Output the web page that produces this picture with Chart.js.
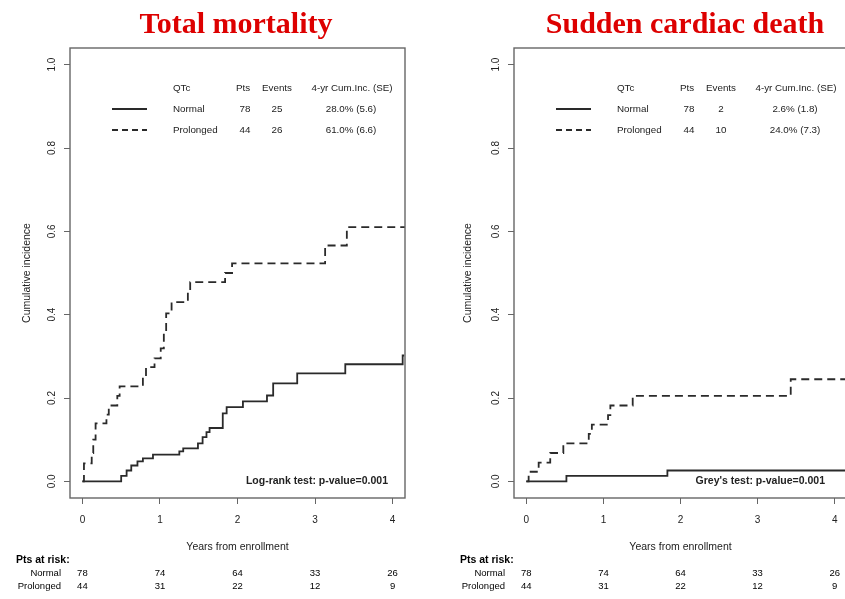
<!DOCTYPE html>
<html>
<head>
<meta charset="utf-8">
<script src="https://cdn.jsdelivr.net/npm/chart.js@4"></script>
<style>
html, body { margin: 0; padding: 0; background: #fff; }
#wrap { position: relative; width: 845px; height: 599px; overflow: hidden; }
#c1 { position: absolute; left: 0; top: 0; width: 420px; height: 599px; }
#c2 { position: absolute; left: 420px; top: 0; width: 440px; height: 599px; }
</style>
</head>
<body>
<div id="wrap">
  <canvas id="c1" width="420" height="599"></canvas>
  <canvas id="c2" width="440" height="599"></canvas>
</div>
<script>
// axes
const yearTicks = [0, 1, 2, 3, 4];
const incidenceTicks = [0, 0.2, 0.4, 0.6, 0.8, 1.0];
const groups = ['Normal', 'Prolonged'];

// patients at risk (same cohort for both panels)
const riskNormal = [78, 74, 64, 33, 26];
const riskProlonged = [44, 31, 22, 12, 9];

// Total mortality - cumulative incidence step curves
const tmNormalTime = [0, 0.50, 0.57, 0.63, 0.71, 0.78, 0.91, 1.25, 1.30, 1.49, 1.55, 1.60, 1.64, 1.81, 1.86, 2.07, 2.38, 2.46, 2.77, 3.39, 4.13, 4.15];
const tmNormalInc  = [0, 0.013, 0.026, 0.038, 0.048, 0.055, 0.064, 0.072, 0.079, 0.091, 0.106, 0.118, 0.128, 0.163, 0.178, 0.192, 0.206, 0.235, 0.259, 0.281, 0.302, 0.302];
const tmProlTime = [0, 0.02, 0.12, 0.14, 0.17, 0.31, 0.34, 0.45, 0.48, 0.78, 0.82, 0.93, 1.01, 1.05, 1.08, 1.15, 1.36, 1.39, 1.84, 1.93, 3.13, 3.41, 4.16];
const tmProlInc  = [0, 0.043, 0.068, 0.100, 0.139, 0.160, 0.182, 0.205, 0.228, 0.250, 0.274, 0.295, 0.319, 0.360, 0.403, 0.430, 0.455, 0.478, 0.500, 0.523, 0.566, 0.610, 0.610];
const tmPts = [78, 44];
const tmEvents = [25, 26];
const tmCumInc = ['28.0% (5.6)', '61.0% (6.6)'];

// Sudden cardiac death
const scdNormalTime = [0, 0.52, 1.83, 4.16];
const scdNormalInc  = [0, 0.013, 0.026, 0.026];
const scdProlTime = [0, 0.03, 0.16, 0.31, 0.48, 0.81, 0.85, 1.06, 1.09, 1.38, 3.43, 4.16];
const scdProlInc  = [0, 0.023, 0.045, 0.068, 0.091, 0.114, 0.136, 0.159, 0.182, 0.205, 0.245, 0.245];
const scdPts = [78, 44];
const scdEvents = [2, 10];
const scdCumInc = ['2.6% (1.8)', '24.0% (7.3)'];

const ink = '#2a2a2a';
const textCol = '#222';
const sans = '"Liberation Sans", Arial, sans-serif';

function toPoints(times, incs) {
    return times.map((t, i) => ({ x: t, y: incs[i] }));
}

// box, title, rotated y labels, legend table, test text, at-risk table
const decor = {
    id: 'decor',
    afterDraw(chart, args, o) {
        const { ctx, chartArea: a, scales: { x, y } } = chart;
        ctx.save();

        ctx.strokeStyle = '#666';
        ctx.lineWidth = 1.4;
        ctx.strokeRect(a.left, a.top, a.right - a.left, a.bottom - a.top);

        // main title
        ctx.fillStyle = '#dd0000';
        ctx.font = 'bold 30px "Liberation Serif", "Times New Roman", serif';
        ctx.textAlign = 'center';
        ctx.textBaseline = 'alphabetic';
        ctx.fillText(o.title, o.titleX, 33);

        // y tick labels, rotated like R
        ctx.fillStyle = textCol;
        ctx.font = '10px ' + sans;
        incidenceTicks.forEach(v => {
            ctx.save();
            ctx.translate(a.left - 18, y.getPixelForValue(v));
            ctx.rotate(-Math.PI / 2);
            ctx.textAlign = 'center';
            ctx.textBaseline = 'middle';
            ctx.fillText(v.toFixed(1), 0, 0);
            ctx.restore();
        });

        // legend table
        const lx = a.left;
        const rows = [a.top + 40, a.top + 61, a.top + 82];
        ctx.font = '9.8px ' + sans;
        ctx.textBaseline = 'middle';
        ctx.textAlign = 'left';
        ctx.fillText('QTc', lx + 103, rows[0]);
        ctx.textAlign = 'center';
        ctx.fillText('Pts', lx + 173, rows[0]);
        ctx.fillText('Events', lx + 207, rows[0]);
        ctx.fillText('4-yr Cum.Inc. (SE)', lx + 282, rows[0]);
        groups.forEach((g, i) => {
            const ry = rows[i + 1];
            ctx.save();
            ctx.strokeStyle = ink;
            ctx.lineWidth = 1.8;
            ctx.setLineDash(i === 0 ? [] : [6, 4]);
            ctx.beginPath();
            ctx.moveTo(lx + 42, ry);
            ctx.lineTo(lx + 77, ry);
            ctx.stroke();
            ctx.restore();
            ctx.textAlign = 'left';
            ctx.fillText(g, lx + 103, ry);
            ctx.textAlign = 'center';
            ctx.fillText(String(o.pts[i]), lx + 175, ry);
            ctx.fillText(String(o.events[i]), lx + 207, ry);
            ctx.fillText(o.cum[i], lx + 281, ry);
        });

        // test result
        ctx.font = 'bold 10.5px ' + sans;
        ctx.textAlign = 'right';
        ctx.fillText(o.test, o.testX, y.getPixelForValue(0));

        // patients at risk
        ctx.fillStyle = '#000';
        ctx.font = 'bold 10.5px ' + sans;
        ctx.textAlign = 'left';
        ctx.fillText('Pts at risk:', a.left - 54, 560);
        ctx.font = '9.5px ' + sans;
        ctx.textAlign = 'right';
        ctx.fillText(groups[0], a.left - 9, 573);
        ctx.fillText(groups[1], a.left - 9, 586);
        ctx.textAlign = 'center';
        yearTicks.forEach((yr, j) => {
            const px = x.getPixelForValue(yr);
            ctx.fillText(String(riskNormal[j]), px, 573);
            ctx.fillText(String(riskProlonged[j]), px, 586);
        });

        ctx.restore();
    }
};

function makeChart(id, p) {
    return new Chart(document.getElementById(id), {
        type: 'line',
        data: {
            datasets: [
                {
                    label: groups[0],
                    data: toPoints(p.normalTime, p.normalInc),
                    borderColor: ink,
                    borderWidth: 1.8,
                    stepped: 'before',
                    pointRadius: 0,
                    fill: false
                },
                {
                    label: groups[1],
                    data: toPoints(p.prolTime, p.prolInc),
                    borderColor: ink,
                    borderWidth: 1.8,
                    borderDash: [8, 5],
                    stepped: 'before',
                    pointRadius: 0,
                    fill: false
                }
            ]
        },
        options: {
            responsive: false,
            animation: false,
            events: [],
            layout: { padding: { left: 0, right: p.padRight, top: 48, bottom: 41 } },
            plugins: {
                legend: { display: false },
                tooltip: { enabled: false },
                decor: p.decor
            },
            scales: {
                x: {
                    type: 'linear',
                    min: -0.16,
                    max: 4.16,
                    afterFit: s => { s.height = 60; },
                    ticks: {
                        stepSize: 1,
                        includeBounds: false,
                        color: textCol,
                        font: { family: sans, size: 10 },
                        padding: 10,
                        callback: v => String(v)
                    },
                    grid: { drawOnChartArea: false, drawTicks: true, tickLength: 6, color: '#666' },
                    border: { display: false },
                    title: {
                        display: true,
                        text: 'Years from enrollment',
                        color: textCol,
                        font: { family: sans, size: 10.5 },
                        padding: { top: 0, bottom: 5 }
                    }
                },
                y: {
                    min: -0.04,
                    max: 1.04,
                    afterFit: s => { s.width = p.yWidth; },
                    ticks: { stepSize: 0.2, includeBounds: false, display: false },
                    grid: { drawOnChartArea: false, drawTicks: true, tickLength: 6, color: '#666' },
                    border: { display: false },
                    title: {
                        display: true,
                        text: 'Cumulative incidence',
                        color: textCol,
                        font: { family: sans, size: 10.5 },
                        padding: { top: p.yTitlePad, bottom: 0 }
                    }
                }
            }
        },
        plugins: [decor]
    });
}

makeChart('c1', {
    normalTime: tmNormalTime, normalInc: tmNormalInc,
    prolTime: tmProlTime, prolInc: tmProlInc,
    padRight: 15, yWidth: 70, yTitlePad: 21,
    decor: {
        title: 'Total mortality', titleX: 236,
        pts: tmPts, events: tmEvents, cum: tmCumInc,
        test: 'Log-rank test: p-value=0.001', testX: 388
    }
});

makeChart('c2', {
    normalTime: scdNormalTime, normalInc: scdNormalInc,
    prolTime: scdProlTime, prolInc: scdProlInc,
    padRight: 13, yWidth: 94, yTitlePad: 42,
    decor: {
        title: 'Sudden cardiac death', titleX: 265,
        pts: scdPts, events: scdEvents, cum: scdCumInc,
        test: "Grey's test: p-value=0.001", testX: 405
    }
});
</script>
</body>
</html>
